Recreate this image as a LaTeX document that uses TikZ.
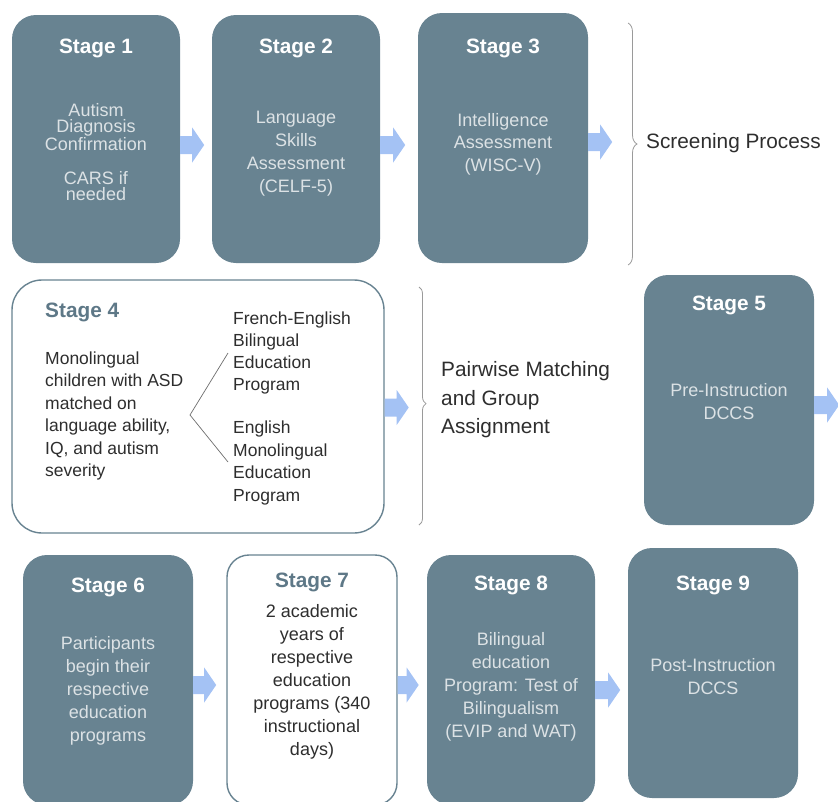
\documentclass[tikz,border=0pt]{standalone}
\usepackage{fontspec}
\setmainfont{Liberation Sans}
\usetikzlibrary{calc,decorations.pathreplacing}
\definecolor{boxc}{HTML}{688391}
\definecolor{arrowc}{HTML}{A4C2F4}
\definecolor{bodytxt}{HTML}{DCE2E5}
\definecolor{darktxt}{HTML}{2E2E2E}
\definecolor{bracec}{HTML}{9A9A9A}
\definecolor{linec}{HTML}{6E6E6E}
\definecolor{titlec}{HTML}{5E7887}
\tikzset{
  darkbox/.style={fill=boxc, draw=none, rounded corners=24pt, inner sep=0pt},
  lightbox/.style={fill=white, draw=boxc, line width=1.4pt, rounded corners=26pt, inner sep=0pt},
  stitle/.style={font=\bfseries\fontsize{20.8}{24}\selectfont, text=white, inner sep=0pt},
  ltitle/.style={font=\bfseries\fontsize{20.8}{24}\selectfont, text=titlec, inner sep=0pt},
  body/.style={font=\fontsize{18}{23}\selectfont, text=bodytxt, align=center, inner sep=0pt},
  dbody/.style={font=\fontsize{18}{23}\selectfont, text=darktxt, align=center, inner sep=0pt},
  lbody/.style={font=\fontsize{17.5}{22.4}\selectfont, text=darktxt, align=left, inner sep=0pt},
  sidelabel/.style={font=\fontsize{20.8}{28.5}\selectfont, text=darktxt, align=left, inner sep=0pt, anchor=west},
  bracedeco/.style={draw=bracec, line width=0.8pt, decorate},
  splitline/.style={draw=linec, line width=0.7pt},
  blockarrow/.style={fill=arrowc, draw=none}
}
\newcommand{\blockarr}[2]{%
  \fill[blockarrow, shift={(#1)}] (0,-9) -- (#2-12,-9) -- (#2-12,-17.5) -- (#2,0)
     -- (#2-12,17.5) -- (#2-12,9) -- (0,9) -- cycle;}
\begin{document}
\begin{tikzpicture}[x=1pt,y=-1pt]
\useasboundingbox (0,0) rectangle (838,801);

% ---- row 1 ----
\node[darkbox, minimum width=168pt, minimum height=248pt] (s1) at (96,139) {};
\node[darkbox, minimum width=168pt, minimum height=248pt] (s2) at (296,139) {};
\node[darkbox, minimum width=170pt, minimum height=250pt] (s3) at (503,138) {};

\node[stitle] (t1) at (96,48) {Stage 1};
\node[body, font=\fontsize{18}{16.5}\selectfont] (b1a) at (96,127) {Autism\\Diagnosis\\Confirmation};
\node[body, font=\fontsize{18}{16.5}\selectfont] (b1b) at (96,186) {CARS if\\needed};

\node[stitle] (t2) at (296,48) {Stage 2};
\node[body] (b2) at (296,154) {Language\\Skills\\Assessment\\(CELF-5)};

\node[stitle] (t3) at (503,48) {Stage 3};
\node[body, font=\fontsize{18}{22.5}\selectfont] (b3) at (503,144) {Intelligence\\Assessment\\(WISC-V)};

\coordinate (a1) at ($(s1.east)+(0,6)$);
\coordinate (a2) at ($(s2.east)+(0,6)$);
\coordinate (a3) at ($(s3.east)+(0,4)$);
\blockarr{a1}{24}
\blockarr{a2}{25}
\blockarr{a3}{24}

\coordinate (br1top) at (628,23);
\coordinate (br1bot) at (628,265);
\draw[bracedeco, decoration={brace, amplitude=9pt}] (br1top) -- (br1bot);
\node[sidelabel] (screen) at (646,143) {Screening Process};

% ---- row 2 ----
\node[lightbox, minimum width=372pt, minimum height=253pt, rounded corners=30pt] (s4) at (198,406.5) {};
\node[ltitle, anchor=west] (t4) at (45,312) {Stage 4};
\node[lbody, anchor=west] (b4) at (45,416) {Monolingual\\children with ASD\\matched on\\language ability,\\IQ, and autism\\severity};
\node[lbody, anchor=west, font=\fontsize{17.5}{21.7}\selectfont] (g1) at (233,353) {French-English\\Bilingual\\Education\\Program};
\node[lbody, anchor=west, font=\fontsize{17.5}{22.7}\selectfont] (g2) at (233,463) {English\\Monolingual\\Education\\Program};
\coordinate (fork) at (190,415);
\coordinate (fup) at (228,353);
\coordinate (fdn) at (228,462);
\draw[splitline] (fup) -- (fork) -- (fdn);

\coordinate (a4) at ($(s4.east)+(0,1)$);
\blockarr{a4}{24}

\coordinate (br2top) at (419,287);
\coordinate (br2bot) at (419,525);
\draw[bracedeco, decoration={brace, amplitude=7pt, aspect=0.49}] (br2top) -- (br2bot);
\node[sidelabel] (pair) at (441,400) {Pairwise Matching\\and Group\\Assignment};

\node[darkbox, minimum width=170pt, minimum height=250pt] (s5) at (729,400) {};
\node[stitle] (t5) at (729,305) {Stage 5};
\node[body] (b5) at (729,402) {Pre-Instruction\\DCCS};
\coordinate (a5) at ($(s5.east)+(0,5)$);
\blockarr{a5}{25}

% ---- row 3 ----
\node[darkbox, minimum width=170pt, minimum height=250pt] (s6) at (108,680) {};
\node[stitle] (t6) at (108,587) {Stage 6};
\node[body] (b6) at (108,691) {Participants\\begin their\\respective\\education\\programs};

\node[lightbox, minimum width=170pt, minimum height=250pt, rounded corners=22pt] (s7) at (312,680) {};
\node[ltitle] (t7) at (312,582) {Stage 7};
\node[dbody] (b7) at (312,682) {2 academic\\years of\\respective\\education\\programs (340\\instructional\\days)};

\node[darkbox, minimum width=168pt, minimum height=250pt] (s8) at (511,680) {};
\node[stitle] (t8) at (511,585) {Stage 8};
\node[body] (b8) at (511,687) {Bilingual\\education\\Program: Test of\\Bilingualism\\(EVIP and WAT)};

\node[darkbox, minimum width=170pt, minimum height=250pt] (s9) at (713,673) {};
\node[stitle] (t9) at (713,585) {Stage 9};
\node[body] (b9) at (713,677) {Post-Instruction\\DCCS};

\coordinate (a6) at ($(s6.east)+(0,5)$);
\coordinate (a7) at ($(s7.east)+(0,5)$);
\coordinate (a8) at ($(s8.east)+(0,10)$);
\blockarr{a6}{23}
\blockarr{a7}{21}
\blockarr{a8}{25}
\end{tikzpicture}
\end{document}
